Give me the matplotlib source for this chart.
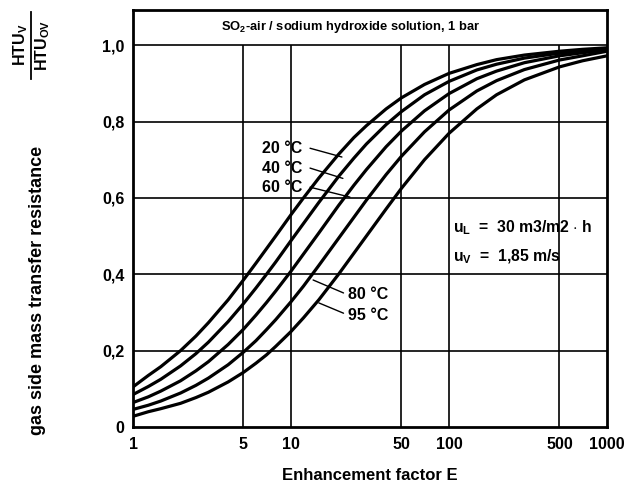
import matplotlib
matplotlib.use("Agg")
import matplotlib.pyplot as plt
from matplotlib.lines import Line2D

plt.rcParams['font.family'] = ['Liberation Sans', 'DejaVu Sans']
plt.rcParams['font.weight'] = 'bold'
plt.rcParams['mathtext.fontset'] = 'custom'
plt.rcParams['mathtext.rm'] = 'Liberation Sans:bold'
plt.rcParams['mathtext.it'] = 'Liberation Sans:bold'
plt.rcParams['mathtext.bf'] = 'Liberation Sans:bold'

# Enhancement factor E (read points)
E = [1, 1.25, 1.5, 2, 2.5, 3, 4, 5, 6, 7, 8, 10, 12, 15, 20, 25, 30, 40, 50,
     70, 100, 150, 200, 300, 500, 700, 1000]

# HTU_V / HTU_OV for each temperature
r_20 = [0.105, 0.135, 0.158, 0.200, 0.238, 0.273, 0.333, 0.385, 0.429, 0.467,
        0.500, 0.556, 0.600, 0.652, 0.714, 0.758, 0.789, 0.833, 0.862, 0.897,
        0.926, 0.949, 0.962, 0.974, 0.984, 0.989, 0.993]
r_40 = [0.085, 0.106, 0.125, 0.160, 0.192, 0.222, 0.276, 0.323, 0.364, 0.400,
        0.432, 0.488, 0.533, 0.588, 0.656, 0.704, 0.741, 0.792, 0.826, 0.870,
        0.905, 0.935, 0.950, 0.966, 0.979, 0.985, 0.991]
r_60 = [0.064, 0.079, 0.094, 0.121, 0.147, 0.171, 0.216, 0.256, 0.293, 0.326,
        0.356, 0.408, 0.453, 0.508, 0.580, 0.633, 0.674, 0.734, 0.775, 0.828,
        0.873, 0.912, 0.932, 0.954, 0.972, 0.980, 0.988]
r_80 = [0.046, 0.057, 0.068, 0.089, 0.109, 0.128, 0.163, 0.196, 0.226, 0.255,
        0.281, 0.328, 0.369, 0.423, 0.494, 0.549, 0.594, 0.661, 0.709, 0.773,
        0.830, 0.880, 0.907, 0.936, 0.961, 0.972, 0.984]
r_95 = [0.028, 0.040, 0.048, 0.062, 0.077, 0.091, 0.118, 0.143, 0.167, 0.189,
        0.211, 0.250, 0.286, 0.333, 0.400, 0.455, 0.500, 0.571, 0.625, 0.700,
        0.769, 0.833, 0.870, 0.909, 0.943, 0.959, 0.972]

curves = [r_20, r_40, r_60, r_80, r_95]

x_grid = [5, 10, 50, 100, 500]
x_ticks = [1, 5, 10, 50, 100, 500, 1000]
y_ticks = [0, 0.2, 0.4, 0.6, 0.8, 1.0]
y_tick_labels = ["0", "0,2", "0,4", "0,6", "0,8", "1,0"]

fig = plt.figure(figsize=(6.41, 4.95), dpi=100)
ax = fig.add_axes([133 / 641, 1 - 427 / 495, 474 / 641, 417 / 495])

ax.set_xscale('log')
ax.set_xlim(1, 1000)
ax.set_ylim(0, 1.092)

# grid (vertical lines stop at the header band)
for y in y_ticks[1:]:
    ax.axhline(y, color='black', lw=1.2, zorder=1)
ax.vlines(x_grid, 0, 1.0, color='black', lw=1.2, zorder=1)

for r in curves:
    ax.plot(E, r, color='black', lw=2.3, solid_joinstyle='round', zorder=3)

for s in ax.spines.values():
    s.set_linewidth(2.0)

ax.set_xticks(x_ticks)
ax.set_xticklabels([str(v) for v in x_ticks])
ax.set_xticks([], minor=True)
ax.set_yticks(y_ticks)
ax.set_yticklabels(y_tick_labels)
ax.tick_params(length=0, labelsize=11.5, pad=6)
ax.tick_params(axis='x', pad=7)

ax.set_xlabel("Enhancement factor E", fontsize=12, fontweight='bold', labelpad=12)

# header band text
ax.text(0.46, 0.959, r"SO$_2$-air / sodium hydroxide solution, 1 bar",
        transform=ax.transAxes, ha='center', va='center', fontsize=9.3)

# operating conditions
ax.text(0.675, 0.477, r"u$_\mathrm{L}$  =  30 m3/m2 $\cdot$ h", transform=ax.transAxes,
        ha='left', va='center', fontsize=11.3)
ax.text(0.675, 0.408, r"u$_\mathrm{V}$  =  1,85 m/s", transform=ax.transAxes,
        ha='left', va='center', fontsize=11.3)

# curve labels with leader lines
labels_top = [("20 °C", 0.730, (21.0, 0.707)),
              ("40 °C", 0.678, (21.3, 0.651)),
              ("60 °C", 0.628, (23.6, 0.602))]
for txt, ty, xy in labels_top:
    ax.text(6.55, ty, txt, ha='left', va='center', fontsize=11.5, zorder=5)
    ax.annotate("", xy=xy, xytext=(13.2, ty),
                arrowprops=dict(arrowstyle='-', color='black', lw=1.0,
                                shrinkA=0, shrinkB=0))

labels_bot = [("80 °C", 0.346, (13.8, 0.385)),
              ("95 °C", 0.293, (15.0, 0.325))]
for txt, ty, xy in labels_bot:
    ax.text(22.9, ty, txt, ha='left', va='center', fontsize=11.5, zorder=5)
    ax.annotate("", xy=xy, xytext=(21.5, ty + 0.005),
                arrowprops=dict(arrowstyle='-', color='black', lw=1.0,
                                shrinkA=0, shrinkB=0))

# y axis labels (rotated)
fig.text(38 / 641, 1 - 290 / 495, "gas side mass transfer resistance",
         rotation=90, ha='center', va='center', fontsize=13)
fig.text(21 / 641, 1 - 45 / 495, r"HTU$_\mathrm{V}$",
         rotation=90, ha='center', va='center', fontsize=11.5)
fig.text(43 / 641, 1 - 45 / 495, r"HTU$_\mathrm{OV}$",
         rotation=90, ha='center', va='center', fontsize=11.5)
fig.add_artist(Line2D([31 / 641, 31 / 641], [1 - 12 / 495, 1 - 79 / 495],
                      transform=fig.transFigure, color='black', lw=1.3))

fig.savefig("out.png", dpi=100)
